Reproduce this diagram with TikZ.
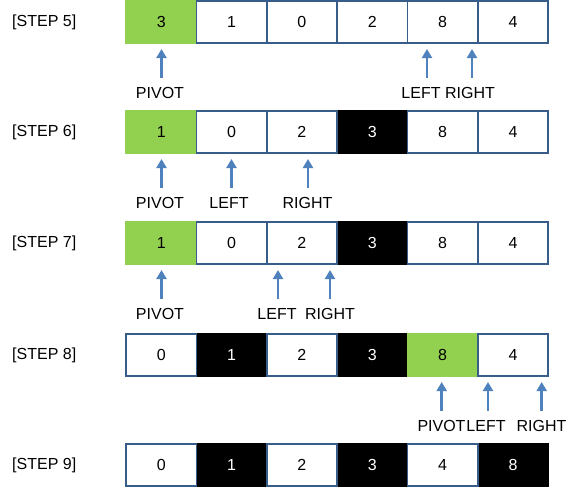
\documentclass[tikz,border=0pt]{standalone}
\usepackage{fontspec}
\setmainfont{Liberation Sans}
\usetikzlibrary{arrows.meta}
\definecolor{pivotgreen}{HTML}{92D050}
\definecolor{cellline}{HTML}{385D8A}
\definecolor{arrowblue}{HTML}{4F81BD}
\tikzset{
  cellw/.style={draw=cellline, line width=1.6pt, fill=white, minimum width=70.35pt,
    minimum height=42pt, inner sep=0pt, outer sep=0pt},
  cellg/.style={cellw, draw=pivotgreen, fill=pivotgreen},
  cellk/.style={cellw, draw=black, fill=black, text=white},
  steplbl/.style={anchor=west, inner sep=0pt},
  ptrlbl/.style={anchor=base, text height=12pt, text depth=0pt, inner xsep=0pt, inner ysep=8pt},
  ptr/.style={draw=arrowblue, line width=2.8pt, -{Triangle[width=10pt,length=9pt]}}
}
% cell: name, column (0..5), row centre y, style, value
\newcommand{\cellbox}[5]{\node[#4] (#1) at (161.2 + #2 * 70.35, #3) {#5};}
% pointer: name, arrow x, label x, row bottom y, text
\newcommand{\pointer}[5]{\coordinate (#1t) at (#2, #4 + 6); \node[ptrlbl] (#1) at (#3, #4 + 55) {#5}; \draw[ptr] (#1t |- #1.north) -- (#1t);}
\begin{document}
\begin{tikzpicture}[x=1pt, y=-1pt, font=\fontsize{16}{19}\selectfont]
        \useasboundingbox (0,0) rectangle (580,488);

        % step 5
        \node[steplbl] (s5) at (12,22) {[STEP 5]};
        \cellbox{a0}{0}{22}{cellg}{3}
        \cellbox{a1}{1}{22}{cellw}{1}
        \cellbox{a2}{2}{22}{cellw}{0}
        \cellbox{a3}{3}{22}{cellw}{2}
        \cellbox{a4}{4}{22}{cellw}{8}
        \cellbox{a5}{5}{22}{cellw}{4}
        \pointer{ap}{161.5}{160}{43}{PIVOT}
        \pointer{al}{427}{421}{43}{LEFT}
        \pointer{ar}{472}{470}{43}{RIGHT}

        % step 6
        \node[steplbl] (s6) at (12,132) {[STEP 6]};
        \cellbox{b0}{0}{132}{cellg}{1}
        \cellbox{b3}{3}{132}{cellk}{3}
        \cellbox{b1}{1}{132}{cellw}{0}
        \cellbox{b2}{2}{132}{cellw}{2}
        \cellbox{b4}{4}{132}{cellw}{8}
        \cellbox{b5}{5}{132}{cellw}{4}
        \pointer{bp}{161.5}{160}{153}{PIVOT}
        \pointer{bl}{231.5}{229}{153}{LEFT}
        \pointer{br}{308}{307.5}{153}{RIGHT}

        % step 7
        \node[steplbl] (s7) at (12,243) {[STEP 7]};
        \cellbox{c0}{0}{243}{cellg}{1}
        \cellbox{c3}{3}{243}{cellk}{3}
        \cellbox{c1}{1}{243}{cellw}{0}
        \cellbox{c2}{2}{243}{cellw}{2}
        \cellbox{c4}{4}{243}{cellw}{8}
        \cellbox{c5}{5}{243}{cellw}{4}
        \pointer{cp}{161.5}{160}{264}{PIVOT}
        \pointer{cl}{278}{277}{264}{LEFT}
        \pointer{cr}{330}{330}{264}{RIGHT}

        % step 8
        \node[steplbl] (s8) at (12,355) {[STEP 8]};
        \cellbox{d1}{1}{355}{cellk}{1}
        \cellbox{d3}{3}{355}{cellk}{3}
        \cellbox{d4}{4}{355}{cellg}{8}
        \cellbox{d0}{0}{355}{cellw}{0}
        \cellbox{d2}{2}{355}{cellw}{2}
        \cellbox{d5}{5}{355}{cellw}{4}
        \pointer{dp}{441.7}{441.5}{376}{PIVOT}
        \pointer{dl}{488}{486}{376}{LEFT}
        \pointer{dr}{541.7}{541.5}{376}{RIGHT}

        % step 9
        \node[steplbl] (s9) at (12,465) {[STEP 9]};
        \cellbox{e1}{1}{465}{cellk}{1}
        \cellbox{e3}{3}{465}{cellk}{3}
        \cellbox{e5}{5}{465}{cellk}{8}
        \cellbox{e0}{0}{465}{cellw}{0}
        \cellbox{e2}{2}{465}{cellw}{2}
        \cellbox{e4}{4}{465}{cellw}{4}

\end{tikzpicture}
\end{document}
